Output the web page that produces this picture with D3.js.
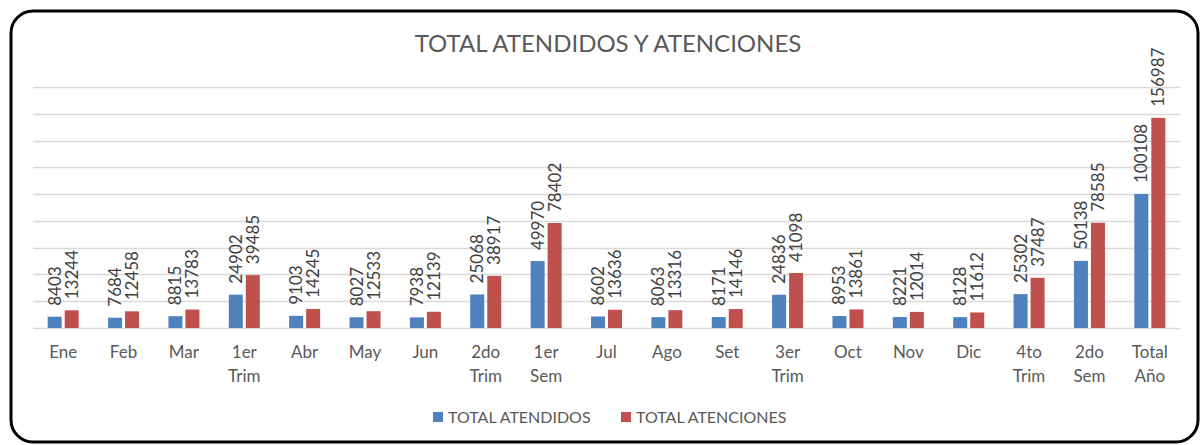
<!DOCTYPE html>
<html>
<head>
<meta charset="utf-8">
<script src="https://cdn.jsdelivr.net/npm/d3@7"></script>
<style>
  body { margin: 0; background: #fff; }
  text { font-family: Lato, "Open Sans", sans-serif; }
</style>
</head>
<body>
<div id="chart"></div>
<script>
// categories and the two series
var categories = ["Ene", "Feb", "Mar", "1er Trim", "Abr", "May", "Jun", "2do Trim", "1er Sem",
    "Jul", "Ago", "Set", "3er Trim", "Oct", "Nov", "Dic", "4to Trim", "2do Sem", "Total Año"];
var atendidos = [8403, 7684, 8815, 24902, 9103, 8027, 7938, 25068, 49970,
    8602, 8063, 8171, 24836, 8953, 8221, 8128, 25302, 50138, 100108];
var atenciones = [13244, 12458, 13783, 39485, 14245, 12533, 12139, 38917, 78402,
    13636, 13316, 14146, 41098, 13861, 12014, 11612, 37487, 78585, 156987];
var seriesNames = ["TOTAL ATENDIDOS", "TOTAL ATENCIONES"];
var yTicks = [0, 20000, 40000, 60000, 80000, 100000, 120000, 140000, 160000, 180000];

var svgWidth = 1202;
var svgHeight = 445;
var colors = ["#4F81BD", "#C0504D"];

var margin = { top: 87, right: 22, bottom: 117, left: 33 };
var width = svgWidth - margin.left - margin.right;
var height = svgHeight - margin.top - margin.bottom;

var svg = d3.select("#chart")
    .append("svg")
    .attr("width", svgWidth)
    .attr("height", svgHeight);

// rounded frame
svg.append("rect")
    .attr("x", 11)
    .attr("y", 11)
    .attr("width", 1187)
    .attr("height", 431)
    .attr("rx", 22)
    .attr("fill", "#fff")
    .attr("stroke", "#000")
    .attr("stroke-width", 3);

svg.append("text")
    .attr("x", 608)
    .attr("y", 52)
    .attr("text-anchor", "middle")
    .attr("fill", "#595959")
    .style("font-size", "24px")
    .text("TOTAL ATENDIDOS Y ATENCIONES");

var chartGroup = svg.append("g")
    .attr("transform", `translate(${margin.left}, ${margin.top})`);

var xScale = d3.scaleBand()
    .domain(categories)
    .range([0, width]);

var yScale = d3.scaleLinear()
    .domain([0, 180000])
    .range([height, 0]);

var barW = 14;
var barGap = 3;

// gridlines
chartGroup.selectAll(".grid")
    .data(yTicks)
    .enter()
    .append("line")
    .attr("x1", 0)
    .attr("x2", width)
    .attr("y1", d => Math.round(yScale(d)) + 0.5)
    .attr("y2", d => Math.round(yScale(d)) + 0.5)
    .attr("stroke", "#D9D9D9")
    .attr("stroke-width", 1.5);

var series = [atendidos, atenciones];

series.forEach(function(values, s) {
    var offset = s === 0 ? -barGap / 2 - barW : barGap / 2;
    var rows = categories.map((c, i) => ({ cat: c, value: values[i] }));

    chartGroup.selectAll(".bar" + s)
        .data(rows)
        .enter()
        .append("rect")
        .attr("x", d => xScale(d.cat) + xScale.bandwidth() / 2 + offset)
        .attr("y", d => yScale(d.value))
        .attr("width", barW)
        .attr("height", d => height - yScale(d.value))
        .attr("fill", colors[s]);

    chartGroup.selectAll(".lbl" + s)
        .data(rows)
        .enter()
        .append("text")
        .attr("transform", d => {
            var x = xScale(d.cat) + xScale.bandwidth() / 2 + offset + barW / 2 + 6;
            var y = yScale(d.value) - 11;
            return `translate(${x}, ${y}) rotate(-90)`;
        })
        .attr("fill", "#404040")
        .style("font-size", "17px")
        .text(d => d.value);
});

// category labels, two lines where needed
var xLabels = chartGroup.selectAll(".xlab")
    .data(categories)
    .enter()
    .append("text")
    .attr("text-anchor", "middle")
    .attr("fill", "#595959")
    .style("font-size", "17px");

xLabels.selectAll("tspan")
    .data(d => d.split(" ").map(w => ({ w: w, x: xScale(d) + xScale.bandwidth() / 2 })))
    .enter()
    .append("tspan")
    .attr("x", d => d.x)
    .attr("y", (d, i) => height + 30 + i * 24)
    .text(d => d.w);

// legend
var legendX = [433, 621];
seriesNames.forEach(function(name, s) {
    svg.append("rect")
        .attr("x", legendX[s])
        .attr("y", 412)
        .attr("width", 10)
        .attr("height", 10)
        .attr("fill", colors[s]);
    svg.append("text")
        .attr("x", legendX[s] + 15)
        .attr("y", 423)
        .attr("fill", "#595959")
        .style("font-size", "16px")
        .text(name);
});
</script>
</body>
</html>
